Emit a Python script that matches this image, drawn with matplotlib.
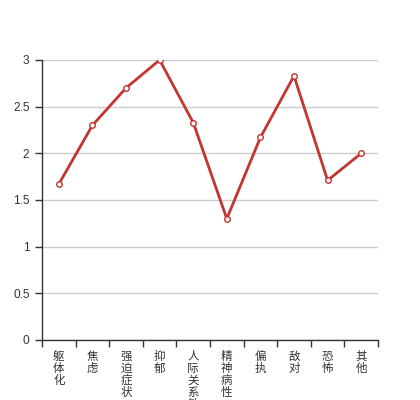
import matplotlib
matplotlib.use("Agg")
import matplotlib.pyplot as plt
from matplotlib.ticker import FixedLocator, NullFormatter

plt.rcParams['font.family'] = ['Noto Sans CJK SC', 'DejaVu Sans']

categories = ["躯体化", "焦虑", "强迫症状", "抑郁", "人际关系敏感", "精神病性", "偏执", "敌对", "恐怖", "其他"]
values = [1.67, 2.30, 2.70, 3.00, 2.33, 1.30, 2.17, 2.83, 1.71, 2.00]
y_ticks = [0, 0.5, 1, 1.5, 2, 2.5, 3]
y_labels = ["0", "0.5", "1", "1.5", "2", "2.5", "3"]

fig = plt.figure(figsize=(4.2, 4.0), dpi=100)
ax = fig.add_axes([42/420, 60/400, 336/420, 280/400])

n = len(categories)
x = list(range(n))
ax.plot(x, values, color='#c23531', lw=2, marker='o', markersize=4,
        markerfacecolor='white', markeredgecolor='#c23531', markeredgewidth=1, zorder=3)

ax.set_xlim(-0.5, n - 0.5)
ax.set_ylim(0, 3)
ax.set_yticks(y_ticks)
ax.set_yticklabels(y_labels, fontsize=8.6, color='#333333', family=['Liberation Sans', 'DejaVu Sans'])
ax.yaxis.grid(True, color='#cccccc', lw=1)
ax.set_axisbelow(True)

ax.xaxis.set_major_locator(FixedLocator([i - 0.5 for i in range(n + 1)]))
ax.xaxis.set_major_formatter(NullFormatter())
ax.xaxis.set_minor_locator(FixedLocator(x))
ax.set_xticklabels(["\n".join(c) for c in categories], minor=True,
                   fontsize=8.3, color='#333333', linespacing=0.92, va='top')
ax.tick_params(axis='x', which='minor', length=0, pad=7)
ax.tick_params(axis='x', which='major', length=5, width=1, color='#333333', direction='out')
ax.tick_params(axis='y', length=5, width=1, color='#333333', pad=4)

for s in ['top', 'right']:
    ax.spines[s].set_visible(False)
for s in ['left', 'bottom']:
    ax.spines[s].set_color('#333333')
    ax.spines[s].set_linewidth(1)

fig.savefig("out.png", dpi=100)
